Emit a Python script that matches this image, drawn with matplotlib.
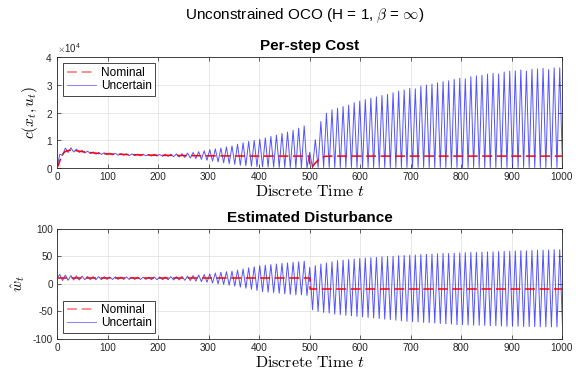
import numpy as np
import matplotlib
matplotlib.use("Agg")
import matplotlib.pyplot as plt
from matplotlib.ticker import ScalarFormatter, MultipleLocator

# ---------------- data ----------------
HALF_PERIOD = 5.5          # time between successive extremes of the oscillation
COST_SCALE = 1e4

# Uncertain per-step cost: local maxima (t = 5.5, 16.5, ...) in units of 1e4
cost_peaks = [
    0.50, 0.72, 0.73, 0.68, 0.64, 0.61, 0.58, 0.56, 0.55, 0.54,
    0.53, 0.52, 0.51, 0.51, 0.50, 0.50, 0.49, 0.50, 0.49, 0.50,
    0.50, 0.51, 0.52, 0.54, 0.56, 0.59, 0.62, 0.66, 0.69, 0.72,
    0.76, 0.80, 0.86, 0.91, 0.96, 1.00, 1.04, 1.09, 1.14, 1.19,
    1.25, 1.30, 1.36, 1.44, 1.52, 0.57, 1.02, 1.68, 1.98, 2.10,
    2.16, 2.22, 2.27, 2.36, 2.42, 2.47, 2.52, 2.57, 2.62, 2.66,
    2.72, 2.78, 2.82, 2.88, 2.86, 2.96, 3.00, 3.03, 3.08, 3.12,
    3.15, 3.20, 3.24, 3.22, 3.30, 3.33, 3.35, 3.39, 3.42, 3.40,
    3.47, 3.50, 3.51, 3.54, 3.50, 3.57, 3.58, 3.60, 3.56, 3.62,
    3.62,
]
# Uncertain per-step cost: local minima (t = 0, 11, 22, ...) in units of 1e4
cost_troughs = [
    0.00, 0.45, 0.56, 0.58, 0.56, 0.54, 0.52, 0.50, 0.49, 0.48,
    0.47, 0.46, 0.46, 0.45, 0.45, 0.44, 0.44, 0.43, 0.43, 0.42,
    0.42, 0.41, 0.40, 0.38, 0.36, 0.34, 0.31, 0.28, 0.25, 0.22,
    0.19, 0.16, 0.13, 0.10, 0.08, 0.06, 0.05, 0.04, 0.03, 0.03,
    0.02, 0.02, 0.02, 0.01, 0.01, 0.00, 0.00, 0.02, 0.02, 0.02,
    0.02, 0.02, 0.02, 0.02, 0.02, 0.02, 0.02, 0.02, 0.02, 0.02,
    0.02, 0.02, 0.02, 0.02, 0.02, 0.02, 0.02, 0.02, 0.02, 0.02,
    0.02, 0.02, 0.02, 0.02, 0.02, 0.02, 0.02, 0.02, 0.02, 0.02,
    0.02, 0.02, 0.02, 0.02, 0.02, 0.02, 0.02, 0.02, 0.02, 0.02,
    0.02, 0.02,
]
# Nominal per-step cost (units of 1e4)
nom_cost_t = [0, 3, 6, 9, 12, 15, 20, 25, 30, 40, 50, 60, 80, 100, 150, 200,
              250, 300, 400, 499, 501, 503, 506, 510, 515, 520, 525, 530, 540, 1000]
nom_cost_v = [0.0, 0.12, 0.28, 0.42, 0.52, 0.58, 0.62, 0.64, 0.64, 0.62, 0.59,
              0.57, 0.53, 0.51, 0.48, 0.46, 0.45, 0.44, 0.43, 0.43, 0.10, 0.02,
              0.05, 0.15, 0.25, 0.33, 0.38, 0.42, 0.43, 0.43]

# Uncertain estimated disturbance: local maxima and minima
dist_peaks = [
    17, 16, 15, 14.5, 14, 13.5, 13, 13, 13, 12.5,
    12.5, 12.5, 12.5, 12, 12, 12, 12, 12.5, 12.5, 12.5,
    13, 13, 13.5, 14, 15, 16, 17, 18, 19.5, 21,
    22, 23, 25, 27, 29, 31, 33, 34, 35, 36,
    37, 38, 39, 40, 41, 30, 33, 36, 38, 40,
    42, 43, 44, 45, 46, 47, 47.5, 48, 49, 49.5,
    50, 51, 51.5, 52, 52.5, 53, 53.5, 54, 54.5, 55,
    55, 55.5, 56, 56.5, 57, 57, 57.5, 58, 58, 58.5,
    59, 59, 59.5, 60, 60, 60.5, 61, 61, 61.5, 62,
    62,
]
dist_troughs = [
    10, 6, 6.5, 7, 7, 7.5, 7.5, 7.5, 7.5, 8,
    8, 8, 8, 8, 8, 8, 8, 7.5, 7.5, 7.5,
    7.5, 7, 7, 6.5, 6, 5, 4, 3, 1.5, 0,
    -1, -2.5, -4, -6, -8, -10, -12, -14, -15, -16,
    -17, -18, -19, -20, -20, -21, -47, -50, -52, -53,
    -55, -56, -57, -58, -59, -60, -61, -62, -63, -64,
    -65, -66, -67, -68, -68.5, -69, -70, -70.5, -71, -72,
    -72.5, -73, -74, -74, -74.5, -75, -75, -75.5, -76, -76,
    -76.5, -77, -77, -77, -77.5, -77.5, -77.5, -78, -78, -78,
    -78, -78,
]
# Nominal estimated disturbance
nom_dist_t = [0, 500, 500, 1000]
nom_dist_v = [10, 10, -10, -10]

x_ticks = [0, 100, 200, 300, 400, 500, 600, 700, 800, 900, 1000]


def interleave(troughs, peaks):
    vals = []
    for i in range(len(troughs)):
        vals.append(troughs[i])
        if i < len(peaks):
            vals.append(peaks[i])
    t = np.arange(len(vals)) * HALF_PERIOD
    return t, np.array(vals, dtype=float)


t_cost, v_cost = interleave(cost_troughs, cost_peaks)
t_dist, v_dist = interleave(dist_troughs, dist_peaks)

# ---------------- style ----------------
plt.rcParams["font.family"] = ["Liberation Sans", "DejaVu Sans"]
plt.rcParams["mathtext.fontset"] = "cm"
plt.rcParams["axes.unicode_minus"] = False

AX_COLOR = "#262626"
RED = "#ff0000"
BLUE = "#1a1aff"

W, H = 582, 377
fig = plt.figure(figsize=(W / 100, H / 100), dpi=100)
ax1 = fig.add_axes([57 / W, 1 - 168 / H, 505 / W, 110.7 / H])
ax2 = fig.add_axes([57 / W, 1 - 339 / H, 505 / W, 110.3 / H])

fig.text(305 / W, 1 - 16 / H, r"Unconstrained OCO (H = 1, $\beta$ = $\infty$)",
         ha="center", va="center", fontsize=11, color="black")


def style_axes(ax):
    for s in ax.spines.values():
        s.set_color(AX_COLOR)
        s.set_linewidth(0.6)
    ax.tick_params(direction="in", length=3, width=0.5, colors=AX_COLOR,
                   labelsize=7.2, top=True, right=True, pad=3)
    ax.grid(True, color="#dedede", linewidth=0.5)
    ax.set_axisbelow(True)
    ax.set_xlim(0, 1000)
    ax.set_xticks(x_ticks)
    ax.set_xlabel(r"$\mathrm{Discrete\ Time}\ t$", fontsize=11.5, labelpad=1,
                  color="black")


# ---- top panel
ln_n1, = ax1.plot(nom_cost_t, np.array(nom_cost_v) * COST_SCALE, color=RED,
                  lw=1.1, dashes=(6.5, 3.0), zorder=3, label="Nominal")
ln_u1, = ax1.plot(t_cost, v_cost * COST_SCALE, color=BLUE, lw=0.7, alpha=0.75,
                  zorder=2, label="Uncertain")
style_axes(ax1)
ax1.set_ylim(0, 4e4)
ax1.yaxis.set_major_locator(MultipleLocator(1e4))
fmt = ScalarFormatter(useMathText=True)
fmt.set_powerlimits((0, 0))
ax1.yaxis.set_major_formatter(fmt)
ax1.yaxis.get_offset_text().set_fontsize(7)
ax1.yaxis.get_offset_text().set_color(AX_COLOR)
ax1.set_ylabel(r"$c(x_t,u_t)$", fontsize=11, labelpad=4)
ax1.set_title("Per-step Cost", fontsize=11, fontweight="bold", pad=5)

# ---- bottom panel
ln_n2, = ax2.plot(nom_dist_t, nom_dist_v, color=RED, lw=1.1, dashes=(6.5, 3.0),
                  zorder=3, label="Nominal")
ln_u2, = ax2.plot(t_dist, v_dist, color=BLUE, lw=0.7, alpha=0.75, zorder=2,
                  label="Uncertain")
style_axes(ax2)
ax2.set_ylim(-100, 100)
ax2.set_yticks([-100, -50, 0, 50, 100])
ax2.set_ylabel(r"$\hat{w}_t$", fontsize=11, labelpad=4)
ax2.set_title("Estimated Disturbance", fontsize=11, fontweight="bold", pad=5)


def add_legend(ax, loc, anchor):
    leg = ax.legend(loc=loc, bbox_to_anchor=anchor, borderaxespad=0,
                    fontsize=8.6, frameon=True, fancybox=False, framealpha=1,
                    edgecolor=AX_COLOR, handlelength=2.5, handletextpad=0.35,
                    borderpad=0.3, labelspacing=0.1)
    leg.get_frame().set_linewidth(0.6)
    for h in leg.legend_handles:
        h.set_alpha(0.55)
    return leg


add_legend(ax1, "upper left", (6 / 505, 1 - 6 / 110.7))
add_legend(ax2, "lower left", (6 / 505, 6 / 110.3))

fig.savefig("out.png", dpi=100)
